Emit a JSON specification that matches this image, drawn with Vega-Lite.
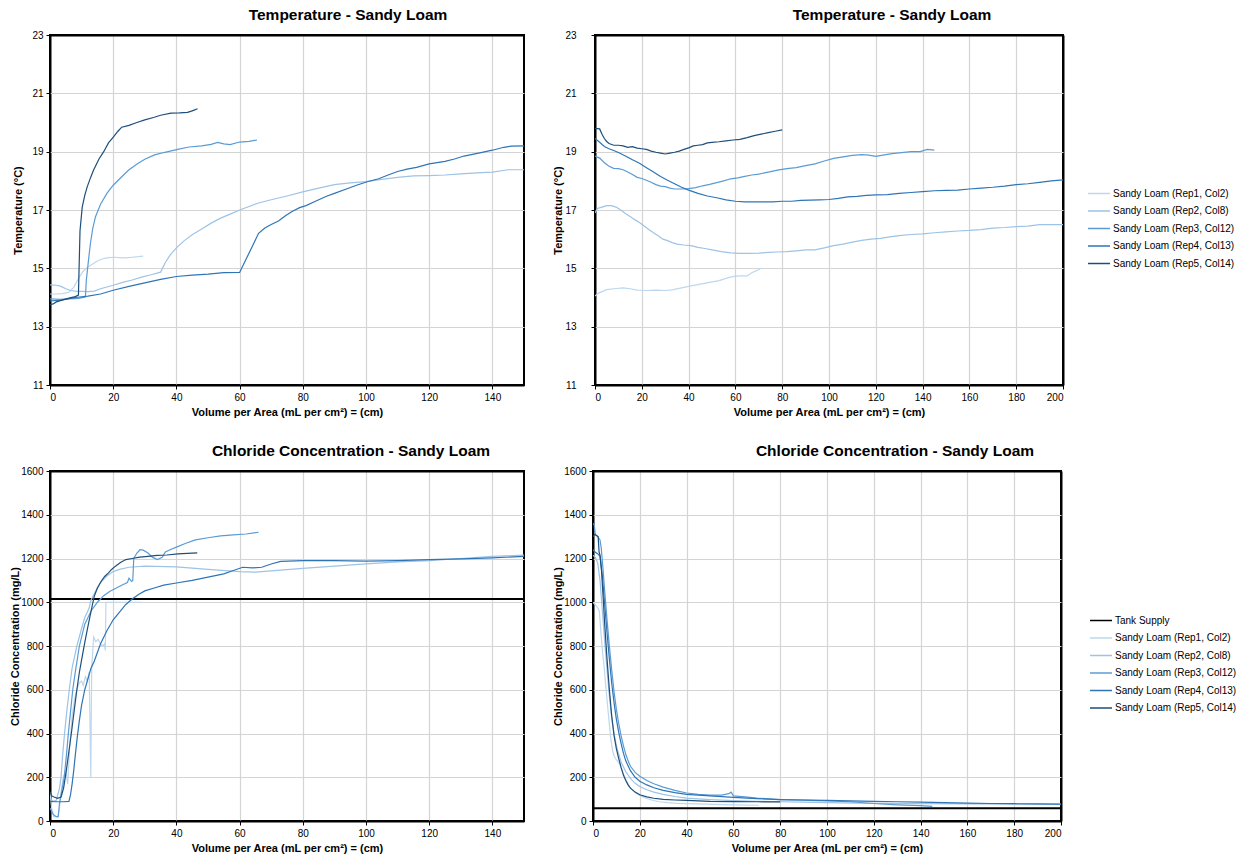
{
"$schema": "https://vega.github.io/schema/vega-lite/v6.json",
"padding": {"left": 8, "top": 6, "right": 0, "bottom": 0},
"config": {
  "font": "Liberation Sans",
  "view": {"stroke": "#000", "strokeWidth": 2},
  "axis": {"labelFont": "Liberation Sans", "labelFontSize": 10, "labelColor": "#000", "titleFont": "Liberation Sans", "titleFontSize": 11, "titleFontWeight": "bold", "titleColor": "#000", "gridColor": "#d4d4d4", "gridWidth": 1.2, "domain": false, "tickColor": "#000", "tickSize": 4, "labelPadding": 3, "titlePadding": 4, "minExtent": 0, "format": "d"},
  "axisY": {"minExtent": 0},
  "title": {"font": "Liberation Sans", "fontSize": 15.5, "fontWeight": "bold", "color": "#000", "offset": 7},
  "legend": {"labelFont": "Liberation Sans", "labelFontSize": 10, "labelColor": "#000", "symbolType": "M-1,0H3", "symbolSize": 121, "symbolStrokeWidth": 1.5, "labelOffset": 13, "rowPadding": 5.5, "labelLimit": 200}
},
"datasets": {
"tempA": [
{"s":"Sandy Loam (Rep1, Col2)","x":0,"y":14.12},{"s":"Sandy Loam (Rep1, Col2)","x":2,"y":14.12},{"s":"Sandy Loam (Rep1, Col2)","x":4,"y":14.13},{"s":"Sandy Loam (Rep1, Col2)","x":6,"y":14.18},{"s":"Sandy Loam (Rep1, Col2)","x":7.5,"y":14.35},{"s":"Sandy Loam (Rep1, Col2)","x":9,"y":14.65},{"s":"Sandy Loam (Rep1, Col2)","x":10.5,"y":14.9},{"s":"Sandy Loam (Rep1, Col2)","x":12,"y":15.05},{"s":"Sandy Loam (Rep1, Col2)","x":13.5,"y":15.15},{"s":"Sandy Loam (Rep1, Col2)","x":15,"y":15.25},{"s":"Sandy Loam (Rep1, Col2)","x":16.5,"y":15.32},{"s":"Sandy Loam (Rep1, Col2)","x":18,"y":15.36},{"s":"Sandy Loam (Rep1, Col2)","x":20,"y":15.38},{"s":"Sandy Loam (Rep1, Col2)","x":22,"y":15.37},{"s":"Sandy Loam (Rep1, Col2)","x":24,"y":15.36},{"s":"Sandy Loam (Rep1, Col2)","x":26,"y":15.38},{"s":"Sandy Loam (Rep1, Col2)","x":28,"y":15.4},{"s":"Sandy Loam (Rep1, Col2)","x":29.5,"y":15.42},
{"s":"Sandy Loam (Rep2, Col8)","x":0,"y":14.43},{"s":"Sandy Loam (Rep2, Col8)","x":2,"y":14.42},{"s":"Sandy Loam (Rep2, Col8)","x":3.5,"y":14.38},{"s":"Sandy Loam (Rep2, Col8)","x":5,"y":14.3},{"s":"Sandy Loam (Rep2, Col8)","x":6.5,"y":14.24},{"s":"Sandy Loam (Rep2, Col8)","x":8,"y":14.22},{"s":"Sandy Loam (Rep2, Col8)","x":10,"y":14.21},{"s":"Sandy Loam (Rep2, Col8)","x":12,"y":14.2},{"s":"Sandy Loam (Rep2, Col8)","x":14,"y":14.22},{"s":"Sandy Loam (Rep2, Col8)","x":16,"y":14.3},{"s":"Sandy Loam (Rep2, Col8)","x":18,"y":14.36},{"s":"Sandy Loam (Rep2, Col8)","x":20,"y":14.42},{"s":"Sandy Loam (Rep2, Col8)","x":23,"y":14.52},{"s":"Sandy Loam (Rep2, Col8)","x":26,"y":14.6},{"s":"Sandy Loam (Rep2, Col8)","x":29,"y":14.7},{"s":"Sandy Loam (Rep2, Col8)","x":32,"y":14.78},{"s":"Sandy Loam (Rep2, Col8)","x":35,"y":14.87},{"s":"Sandy Loam (Rep2, Col8)","x":36.5,"y":15.2},{"s":"Sandy Loam (Rep2, Col8)","x":38,"y":15.45},{"s":"Sandy Loam (Rep2, Col8)","x":40,"y":15.7},{"s":"Sandy Loam (Rep2, Col8)","x":42.5,"y":15.95},{"s":"Sandy Loam (Rep2, Col8)","x":45,"y":16.15},{"s":"Sandy Loam (Rep2, Col8)","x":48,"y":16.35},{"s":"Sandy Loam (Rep2, Col8)","x":51,"y":16.55},{"s":"Sandy Loam (Rep2, Col8)","x":54,"y":16.72},{"s":"Sandy Loam (Rep2, Col8)","x":57,"y":16.86},{"s":"Sandy Loam (Rep2, Col8)","x":60,"y":17.0},{"s":"Sandy Loam (Rep2, Col8)","x":63,"y":17.12},{"s":"Sandy Loam (Rep2, Col8)","x":66,"y":17.24},{"s":"Sandy Loam (Rep2, Col8)","x":70,"y":17.35},{"s":"Sandy Loam (Rep2, Col8)","x":75,"y":17.48},{"s":"Sandy Loam (Rep2, Col8)","x":80,"y":17.62},{"s":"Sandy Loam (Rep2, Col8)","x":85,"y":17.75},{"s":"Sandy Loam (Rep2, Col8)","x":90,"y":17.87},{"s":"Sandy Loam (Rep2, Col8)","x":95,"y":17.93},{"s":"Sandy Loam (Rep2, Col8)","x":100,"y":17.97},{"s":"Sandy Loam (Rep2, Col8)","x":105,"y":18.05},{"s":"Sandy Loam (Rep2, Col8)","x":110,"y":18.12},{"s":"Sandy Loam (Rep2, Col8)","x":115,"y":18.17},{"s":"Sandy Loam (Rep2, Col8)","x":120,"y":18.18},{"s":"Sandy Loam (Rep2, Col8)","x":125,"y":18.2},{"s":"Sandy Loam (Rep2, Col8)","x":130,"y":18.24},{"s":"Sandy Loam (Rep2, Col8)","x":135,"y":18.27},{"s":"Sandy Loam (Rep2, Col8)","x":140,"y":18.3},{"s":"Sandy Loam (Rep2, Col8)","x":145,"y":18.38},{"s":"Sandy Loam (Rep2, Col8)","x":150,"y":18.38},
{"s":"Sandy Loam (Rep3, Col12)","x":0,"y":13.95},{"s":"Sandy Loam (Rep3, Col12)","x":3,"y":13.94},{"s":"Sandy Loam (Rep3, Col12)","x":6,"y":13.95},{"s":"Sandy Loam (Rep3, Col12)","x":9,"y":13.97},{"s":"Sandy Loam (Rep3, Col12)","x":11.2,"y":14.02},{"s":"Sandy Loam (Rep3, Col12)","x":11.5,"y":14.6},{"s":"Sandy Loam (Rep3, Col12)","x":12.2,"y":15.3},{"s":"Sandy Loam (Rep3, Col12)","x":12.8,"y":15.86},{"s":"Sandy Loam (Rep3, Col12)","x":13.5,"y":16.35},{"s":"Sandy Loam (Rep3, Col12)","x":14.4,"y":16.77},{"s":"Sandy Loam (Rep3, Col12)","x":16,"y":17.2},{"s":"Sandy Loam (Rep3, Col12)","x":18,"y":17.57},{"s":"Sandy Loam (Rep3, Col12)","x":20,"y":17.85},{"s":"Sandy Loam (Rep3, Col12)","x":22.7,"y":18.14},{"s":"Sandy Loam (Rep3, Col12)","x":25,"y":18.38},{"s":"Sandy Loam (Rep3, Col12)","x":27.9,"y":18.6},{"s":"Sandy Loam (Rep3, Col12)","x":30,"y":18.74},{"s":"Sandy Loam (Rep3, Col12)","x":33.1,"y":18.89},{"s":"Sandy Loam (Rep3, Col12)","x":36,"y":18.97},{"s":"Sandy Loam (Rep3, Col12)","x":40.4,"y":19.08},{"s":"Sandy Loam (Rep3, Col12)","x":44,"y":19.16},{"s":"Sandy Loam (Rep3, Col12)","x":48,"y":19.2},{"s":"Sandy Loam (Rep3, Col12)","x":51,"y":19.25},{"s":"Sandy Loam (Rep3, Col12)","x":53,"y":19.32},{"s":"Sandy Loam (Rep3, Col12)","x":55,"y":19.27},{"s":"Sandy Loam (Rep3, Col12)","x":57,"y":19.24},{"s":"Sandy Loam (Rep3, Col12)","x":60,"y":19.33},{"s":"Sandy Loam (Rep3, Col12)","x":63,"y":19.35},{"s":"Sandy Loam (Rep3, Col12)","x":65.5,"y":19.4},
{"s":"Sandy Loam (Rep4, Col13)","x":0,"y":13.88},{"s":"Sandy Loam (Rep4, Col13)","x":4,"y":13.92},{"s":"Sandy Loam (Rep4, Col13)","x":8,"y":14.0},{"s":"Sandy Loam (Rep4, Col13)","x":12,"y":14.05},{"s":"Sandy Loam (Rep4, Col13)","x":16,"y":14.12},{"s":"Sandy Loam (Rep4, Col13)","x":20,"y":14.25},{"s":"Sandy Loam (Rep4, Col13)","x":25,"y":14.38},{"s":"Sandy Loam (Rep4, Col13)","x":30,"y":14.5},{"s":"Sandy Loam (Rep4, Col13)","x":35,"y":14.62},{"s":"Sandy Loam (Rep4, Col13)","x":40,"y":14.72},{"s":"Sandy Loam (Rep4, Col13)","x":45,"y":14.77},{"s":"Sandy Loam (Rep4, Col13)","x":50,"y":14.8},{"s":"Sandy Loam (Rep4, Col13)","x":55,"y":14.85},{"s":"Sandy Loam (Rep4, Col13)","x":60,"y":14.86},{"s":"Sandy Loam (Rep4, Col13)","x":62,"y":15.3},{"s":"Sandy Loam (Rep4, Col13)","x":64,"y":15.75},{"s":"Sandy Loam (Rep4, Col13)","x":66,"y":16.2},{"s":"Sandy Loam (Rep4, Col13)","x":68,"y":16.38},{"s":"Sandy Loam (Rep4, Col13)","x":70,"y":16.5},{"s":"Sandy Loam (Rep4, Col13)","x":72.3,"y":16.62},{"s":"Sandy Loam (Rep4, Col13)","x":74.5,"y":16.8},{"s":"Sandy Loam (Rep4, Col13)","x":76.6,"y":16.95},{"s":"Sandy Loam (Rep4, Col13)","x":79,"y":17.08},{"s":"Sandy Loam (Rep4, Col13)","x":81,"y":17.15},{"s":"Sandy Loam (Rep4, Col13)","x":84,"y":17.3},{"s":"Sandy Loam (Rep4, Col13)","x":87.5,"y":17.47},{"s":"Sandy Loam (Rep4, Col13)","x":90,"y":17.57},{"s":"Sandy Loam (Rep4, Col13)","x":94,"y":17.73},{"s":"Sandy Loam (Rep4, Col13)","x":97,"y":17.85},{"s":"Sandy Loam (Rep4, Col13)","x":100.4,"y":17.97},{"s":"Sandy Loam (Rep4, Col13)","x":104,"y":18.07},{"s":"Sandy Loam (Rep4, Col13)","x":107,"y":18.2},{"s":"Sandy Loam (Rep4, Col13)","x":110,"y":18.32},{"s":"Sandy Loam (Rep4, Col13)","x":113,"y":18.4},{"s":"Sandy Loam (Rep4, Col13)","x":116,"y":18.46},{"s":"Sandy Loam (Rep4, Col13)","x":120,"y":18.58},{"s":"Sandy Loam (Rep4, Col13)","x":125,"y":18.67},{"s":"Sandy Loam (Rep4, Col13)","x":128,"y":18.75},{"s":"Sandy Loam (Rep4, Col13)","x":131,"y":18.85},{"s":"Sandy Loam (Rep4, Col13)","x":136,"y":18.96},{"s":"Sandy Loam (Rep4, Col13)","x":140,"y":19.05},{"s":"Sandy Loam (Rep4, Col13)","x":143.6,"y":19.15},{"s":"Sandy Loam (Rep4, Col13)","x":146,"y":19.19},{"s":"Sandy Loam (Rep4, Col13)","x":150,"y":19.2},
{"s":"Sandy Loam (Rep5, Col14)","x":0,"y":13.75},{"s":"Sandy Loam (Rep5, Col14)","x":1,"y":13.78},{"s":"Sandy Loam (Rep5, Col14)","x":2,"y":13.85},{"s":"Sandy Loam (Rep5, Col14)","x":4,"y":13.92},{"s":"Sandy Loam (Rep5, Col14)","x":6,"y":13.98},{"s":"Sandy Loam (Rep5, Col14)","x":8,"y":14.03},{"s":"Sandy Loam (Rep5, Col14)","x":9,"y":14.08},{"s":"Sandy Loam (Rep5, Col14)","x":9.2,"y":15.0},{"s":"Sandy Loam (Rep5, Col14)","x":9.5,"y":16.3},{"s":"Sandy Loam (Rep5, Col14)","x":10.2,"y":17.1},{"s":"Sandy Loam (Rep5, Col14)","x":11,"y":17.5},{"s":"Sandy Loam (Rep5, Col14)","x":11.8,"y":17.8},{"s":"Sandy Loam (Rep5, Col14)","x":12.8,"y":18.1},{"s":"Sandy Loam (Rep5, Col14)","x":13.8,"y":18.37},{"s":"Sandy Loam (Rep5, Col14)","x":15.5,"y":18.75},{"s":"Sandy Loam (Rep5, Col14)","x":17,"y":19.0},{"s":"Sandy Loam (Rep5, Col14)","x":18.5,"y":19.3},{"s":"Sandy Loam (Rep5, Col14)","x":20.1,"y":19.51},{"s":"Sandy Loam (Rep5, Col14)","x":21.5,"y":19.7},{"s":"Sandy Loam (Rep5, Col14)","x":22.7,"y":19.84},{"s":"Sandy Loam (Rep5, Col14)","x":25,"y":19.9},{"s":"Sandy Loam (Rep5, Col14)","x":27.5,"y":20.0},{"s":"Sandy Loam (Rep5, Col14)","x":30,"y":20.09},{"s":"Sandy Loam (Rep5, Col14)","x":33,"y":20.18},{"s":"Sandy Loam (Rep5, Col14)","x":35,"y":20.25},{"s":"Sandy Loam (Rep5, Col14)","x":38.3,"y":20.32},{"s":"Sandy Loam (Rep5, Col14)","x":41,"y":20.33},{"s":"Sandy Loam (Rep5, Col14)","x":43.5,"y":20.35},{"s":"Sandy Loam (Rep5, Col14)","x":45,"y":20.4},{"s":"Sandy Loam (Rep5, Col14)","x":46.7,"y":20.47}
],
"tempB": [
{"s":"Sandy Loam (Rep1, Col2)","x":0,"y":14.05},{"s":"Sandy Loam (Rep1, Col2)","x":1.5,"y":14.15},{"s":"Sandy Loam (Rep1, Col2)","x":3,"y":14.2},{"s":"Sandy Loam (Rep1, Col2)","x":5,"y":14.27},{"s":"Sandy Loam (Rep1, Col2)","x":8,"y":14.3},{"s":"Sandy Loam (Rep1, Col2)","x":12,"y":14.33},{"s":"Sandy Loam (Rep1, Col2)","x":15,"y":14.3},{"s":"Sandy Loam (Rep1, Col2)","x":18,"y":14.25},{"s":"Sandy Loam (Rep1, Col2)","x":22,"y":14.24},{"s":"Sandy Loam (Rep1, Col2)","x":26,"y":14.25},{"s":"Sandy Loam (Rep1, Col2)","x":30,"y":14.24},{"s":"Sandy Loam (Rep1, Col2)","x":33,"y":14.26},{"s":"Sandy Loam (Rep1, Col2)","x":37,"y":14.33},{"s":"Sandy Loam (Rep1, Col2)","x":41,"y":14.4},{"s":"Sandy Loam (Rep1, Col2)","x":45,"y":14.46},{"s":"Sandy Loam (Rep1, Col2)","x":49,"y":14.52},{"s":"Sandy Loam (Rep1, Col2)","x":53,"y":14.58},{"s":"Sandy Loam (Rep1, Col2)","x":57,"y":14.68},{"s":"Sandy Loam (Rep1, Col2)","x":60,"y":14.73},{"s":"Sandy Loam (Rep1, Col2)","x":63,"y":14.74},{"s":"Sandy Loam (Rep1, Col2)","x":65,"y":14.74},{"s":"Sandy Loam (Rep1, Col2)","x":67,"y":14.85},{"s":"Sandy Loam (Rep1, Col2)","x":69,"y":14.92},{"s":"Sandy Loam (Rep1, Col2)","x":71,"y":15.0},
{"s":"Sandy Loam (Rep2, Col8)","x":0,"y":16.9},{"s":"Sandy Loam (Rep2, Col8)","x":1,"y":17.05},{"s":"Sandy Loam (Rep2, Col8)","x":3,"y":17.1},{"s":"Sandy Loam (Rep2, Col8)","x":5,"y":17.15},{"s":"Sandy Loam (Rep2, Col8)","x":7,"y":17.15},{"s":"Sandy Loam (Rep2, Col8)","x":9,"y":17.1},{"s":"Sandy Loam (Rep2, Col8)","x":11,"y":17.0},{"s":"Sandy Loam (Rep2, Col8)","x":13,"y":16.88},{"s":"Sandy Loam (Rep2, Col8)","x":15,"y":16.78},{"s":"Sandy Loam (Rep2, Col8)","x":17,"y":16.67},{"s":"Sandy Loam (Rep2, Col8)","x":19,"y":16.57},{"s":"Sandy Loam (Rep2, Col8)","x":21,"y":16.45},{"s":"Sandy Loam (Rep2, Col8)","x":23,"y":16.33},{"s":"Sandy Loam (Rep2, Col8)","x":25,"y":16.22},{"s":"Sandy Loam (Rep2, Col8)","x":27,"y":16.12},{"s":"Sandy Loam (Rep2, Col8)","x":29,"y":16.0},{"s":"Sandy Loam (Rep2, Col8)","x":31,"y":15.95},{"s":"Sandy Loam (Rep2, Col8)","x":33,"y":15.88},{"s":"Sandy Loam (Rep2, Col8)","x":35,"y":15.83},{"s":"Sandy Loam (Rep2, Col8)","x":38,"y":15.8},{"s":"Sandy Loam (Rep2, Col8)","x":41,"y":15.78},{"s":"Sandy Loam (Rep2, Col8)","x":44,"y":15.72},{"s":"Sandy Loam (Rep2, Col8)","x":47,"y":15.68},{"s":"Sandy Loam (Rep2, Col8)","x":50,"y":15.63},{"s":"Sandy Loam (Rep2, Col8)","x":54,"y":15.57},{"s":"Sandy Loam (Rep2, Col8)","x":58,"y":15.53},{"s":"Sandy Loam (Rep2, Col8)","x":62,"y":15.51},{"s":"Sandy Loam (Rep2, Col8)","x":66,"y":15.51},{"s":"Sandy Loam (Rep2, Col8)","x":70,"y":15.52},{"s":"Sandy Loam (Rep2, Col8)","x":74,"y":15.55},{"s":"Sandy Loam (Rep2, Col8)","x":78,"y":15.56},{"s":"Sandy Loam (Rep2, Col8)","x":82,"y":15.57},{"s":"Sandy Loam (Rep2, Col8)","x":86,"y":15.6},{"s":"Sandy Loam (Rep2, Col8)","x":90,"y":15.63},{"s":"Sandy Loam (Rep2, Col8)","x":94,"y":15.63},{"s":"Sandy Loam (Rep2, Col8)","x":98,"y":15.7},{"s":"Sandy Loam (Rep2, Col8)","x":102,"y":15.78},{"s":"Sandy Loam (Rep2, Col8)","x":106,"y":15.83},{"s":"Sandy Loam (Rep2, Col8)","x":110,"y":15.9},{"s":"Sandy Loam (Rep2, Col8)","x":114,"y":15.96},{"s":"Sandy Loam (Rep2, Col8)","x":118,"y":16.0},{"s":"Sandy Loam (Rep2, Col8)","x":122,"y":16.03},{"s":"Sandy Loam (Rep2, Col8)","x":126,"y":16.08},{"s":"Sandy Loam (Rep2, Col8)","x":130,"y":16.12},{"s":"Sandy Loam (Rep2, Col8)","x":135,"y":16.16},{"s":"Sandy Loam (Rep2, Col8)","x":140,"y":16.18},{"s":"Sandy Loam (Rep2, Col8)","x":145,"y":16.22},{"s":"Sandy Loam (Rep2, Col8)","x":150,"y":16.25},{"s":"Sandy Loam (Rep2, Col8)","x":155,"y":16.28},{"s":"Sandy Loam (Rep2, Col8)","x":160,"y":16.3},{"s":"Sandy Loam (Rep2, Col8)","x":165,"y":16.33},{"s":"Sandy Loam (Rep2, Col8)","x":170,"y":16.38},{"s":"Sandy Loam (Rep2, Col8)","x":175,"y":16.4},{"s":"Sandy Loam (Rep2, Col8)","x":180,"y":16.43},{"s":"Sandy Loam (Rep2, Col8)","x":185,"y":16.45},{"s":"Sandy Loam (Rep2, Col8)","x":190,"y":16.5},{"s":"Sandy Loam (Rep2, Col8)","x":195,"y":16.5},{"s":"Sandy Loam (Rep2, Col8)","x":200,"y":16.5},
{"s":"Sandy Loam (Rep3, Col12)","x":0,"y":18.85},{"s":"Sandy Loam (Rep3, Col12)","x":2,"y":18.78},{"s":"Sandy Loam (Rep3, Col12)","x":4,"y":18.62},{"s":"Sandy Loam (Rep3, Col12)","x":6,"y":18.5},{"s":"Sandy Loam (Rep3, Col12)","x":8,"y":18.43},{"s":"Sandy Loam (Rep3, Col12)","x":10,"y":18.42},{"s":"Sandy Loam (Rep3, Col12)","x":12,"y":18.38},{"s":"Sandy Loam (Rep3, Col12)","x":14,"y":18.3},{"s":"Sandy Loam (Rep3, Col12)","x":16,"y":18.22},{"s":"Sandy Loam (Rep3, Col12)","x":18,"y":18.12},{"s":"Sandy Loam (Rep3, Col12)","x":20,"y":18.08},{"s":"Sandy Loam (Rep3, Col12)","x":22,"y":18.02},{"s":"Sandy Loam (Rep3, Col12)","x":24,"y":17.95},{"s":"Sandy Loam (Rep3, Col12)","x":26,"y":17.87},{"s":"Sandy Loam (Rep3, Col12)","x":28,"y":17.82},{"s":"Sandy Loam (Rep3, Col12)","x":30,"y":17.8},{"s":"Sandy Loam (Rep3, Col12)","x":32,"y":17.75},{"s":"Sandy Loam (Rep3, Col12)","x":34,"y":17.72},{"s":"Sandy Loam (Rep3, Col12)","x":37,"y":17.72},{"s":"Sandy Loam (Rep3, Col12)","x":40,"y":17.73},{"s":"Sandy Loam (Rep3, Col12)","x":43,"y":17.77},{"s":"Sandy Loam (Rep3, Col12)","x":46,"y":17.83},{"s":"Sandy Loam (Rep3, Col12)","x":49,"y":17.88},{"s":"Sandy Loam (Rep3, Col12)","x":52,"y":17.94},{"s":"Sandy Loam (Rep3, Col12)","x":55,"y":18.0},{"s":"Sandy Loam (Rep3, Col12)","x":58,"y":18.07},{"s":"Sandy Loam (Rep3, Col12)","x":61,"y":18.1},{"s":"Sandy Loam (Rep3, Col12)","x":64,"y":18.15},{"s":"Sandy Loam (Rep3, Col12)","x":67,"y":18.2},{"s":"Sandy Loam (Rep3, Col12)","x":70,"y":18.23},{"s":"Sandy Loam (Rep3, Col12)","x":74,"y":18.3},{"s":"Sandy Loam (Rep3, Col12)","x":78,"y":18.37},{"s":"Sandy Loam (Rep3, Col12)","x":82,"y":18.42},{"s":"Sandy Loam (Rep3, Col12)","x":86,"y":18.45},{"s":"Sandy Loam (Rep3, Col12)","x":90,"y":18.52},{"s":"Sandy Loam (Rep3, Col12)","x":94,"y":18.58},{"s":"Sandy Loam (Rep3, Col12)","x":98,"y":18.68},{"s":"Sandy Loam (Rep3, Col12)","x":102,"y":18.77},{"s":"Sandy Loam (Rep3, Col12)","x":106,"y":18.82},{"s":"Sandy Loam (Rep3, Col12)","x":110,"y":18.87},{"s":"Sandy Loam (Rep3, Col12)","x":114,"y":18.9},{"s":"Sandy Loam (Rep3, Col12)","x":117,"y":18.88},{"s":"Sandy Loam (Rep3, Col12)","x":120,"y":18.84},{"s":"Sandy Loam (Rep3, Col12)","x":123,"y":18.88},{"s":"Sandy Loam (Rep3, Col12)","x":127,"y":18.93},{"s":"Sandy Loam (Rep3, Col12)","x":131,"y":18.97},{"s":"Sandy Loam (Rep3, Col12)","x":135,"y":19.0},{"s":"Sandy Loam (Rep3, Col12)","x":139,"y":19.0},{"s":"Sandy Loam (Rep3, Col12)","x":142,"y":19.08},{"s":"Sandy Loam (Rep3, Col12)","x":145,"y":19.05},
{"s":"Sandy Loam (Rep4, Col13)","x":0,"y":19.45},{"s":"Sandy Loam (Rep4, Col13)","x":2,"y":19.32},{"s":"Sandy Loam (Rep4, Col13)","x":4,"y":19.18},{"s":"Sandy Loam (Rep4, Col13)","x":6,"y":19.1},{"s":"Sandy Loam (Rep4, Col13)","x":8,"y":19.04},{"s":"Sandy Loam (Rep4, Col13)","x":10,"y":18.97},{"s":"Sandy Loam (Rep4, Col13)","x":13,"y":18.85},{"s":"Sandy Loam (Rep4, Col13)","x":16,"y":18.72},{"s":"Sandy Loam (Rep4, Col13)","x":19,"y":18.6},{"s":"Sandy Loam (Rep4, Col13)","x":22,"y":18.45},{"s":"Sandy Loam (Rep4, Col13)","x":25,"y":18.3},{"s":"Sandy Loam (Rep4, Col13)","x":28,"y":18.15},{"s":"Sandy Loam (Rep4, Col13)","x":31,"y":18.02},{"s":"Sandy Loam (Rep4, Col13)","x":34,"y":17.9},{"s":"Sandy Loam (Rep4, Col13)","x":37,"y":17.78},{"s":"Sandy Loam (Rep4, Col13)","x":40,"y":17.68},{"s":"Sandy Loam (Rep4, Col13)","x":44,"y":17.57},{"s":"Sandy Loam (Rep4, Col13)","x":48,"y":17.48},{"s":"Sandy Loam (Rep4, Col13)","x":52,"y":17.42},{"s":"Sandy Loam (Rep4, Col13)","x":56,"y":17.35},{"s":"Sandy Loam (Rep4, Col13)","x":60,"y":17.3},{"s":"Sandy Loam (Rep4, Col13)","x":64,"y":17.28},{"s":"Sandy Loam (Rep4, Col13)","x":68,"y":17.28},{"s":"Sandy Loam (Rep4, Col13)","x":72,"y":17.28},{"s":"Sandy Loam (Rep4, Col13)","x":76,"y":17.28},{"s":"Sandy Loam (Rep4, Col13)","x":80,"y":17.3},{"s":"Sandy Loam (Rep4, Col13)","x":84,"y":17.3},{"s":"Sandy Loam (Rep4, Col13)","x":88,"y":17.33},{"s":"Sandy Loam (Rep4, Col13)","x":92,"y":17.34},{"s":"Sandy Loam (Rep4, Col13)","x":96,"y":17.35},{"s":"Sandy Loam (Rep4, Col13)","x":100,"y":17.36},{"s":"Sandy Loam (Rep4, Col13)","x":104,"y":17.4},{"s":"Sandy Loam (Rep4, Col13)","x":108,"y":17.45},{"s":"Sandy Loam (Rep4, Col13)","x":112,"y":17.47},{"s":"Sandy Loam (Rep4, Col13)","x":116,"y":17.5},{"s":"Sandy Loam (Rep4, Col13)","x":120,"y":17.52},{"s":"Sandy Loam (Rep4, Col13)","x":125,"y":17.53},{"s":"Sandy Loam (Rep4, Col13)","x":130,"y":17.57},{"s":"Sandy Loam (Rep4, Col13)","x":135,"y":17.6},{"s":"Sandy Loam (Rep4, Col13)","x":140,"y":17.63},{"s":"Sandy Loam (Rep4, Col13)","x":145,"y":17.66},{"s":"Sandy Loam (Rep4, Col13)","x":150,"y":17.67},{"s":"Sandy Loam (Rep4, Col13)","x":155,"y":17.68},{"s":"Sandy Loam (Rep4, Col13)","x":160,"y":17.72},{"s":"Sandy Loam (Rep4, Col13)","x":165,"y":17.75},{"s":"Sandy Loam (Rep4, Col13)","x":170,"y":17.78},{"s":"Sandy Loam (Rep4, Col13)","x":175,"y":17.82},{"s":"Sandy Loam (Rep4, Col13)","x":180,"y":17.87},{"s":"Sandy Loam (Rep4, Col13)","x":185,"y":17.9},{"s":"Sandy Loam (Rep4, Col13)","x":190,"y":17.95},{"s":"Sandy Loam (Rep4, Col13)","x":195,"y":18.0},{"s":"Sandy Loam (Rep4, Col13)","x":200,"y":18.03},
{"s":"Sandy Loam (Rep5, Col14)","x":0,"y":19.8},{"s":"Sandy Loam (Rep5, Col14)","x":2,"y":19.78},{"s":"Sandy Loam (Rep5, Col14)","x":3,"y":19.6},{"s":"Sandy Loam (Rep5, Col14)","x":4,"y":19.45},{"s":"Sandy Loam (Rep5, Col14)","x":5,"y":19.35},{"s":"Sandy Loam (Rep5, Col14)","x":6,"y":19.28},{"s":"Sandy Loam (Rep5, Col14)","x":8,"y":19.22},{"s":"Sandy Loam (Rep5, Col14)","x":10,"y":19.22},{"s":"Sandy Loam (Rep5, Col14)","x":12,"y":19.2},{"s":"Sandy Loam (Rep5, Col14)","x":14,"y":19.15},{"s":"Sandy Loam (Rep5, Col14)","x":16,"y":19.17},{"s":"Sandy Loam (Rep5, Col14)","x":18,"y":19.12},{"s":"Sandy Loam (Rep5, Col14)","x":20,"y":19.1},{"s":"Sandy Loam (Rep5, Col14)","x":22,"y":19.08},{"s":"Sandy Loam (Rep5, Col14)","x":24,"y":19.02},{"s":"Sandy Loam (Rep5, Col14)","x":26,"y":18.98},{"s":"Sandy Loam (Rep5, Col14)","x":28,"y":18.95},{"s":"Sandy Loam (Rep5, Col14)","x":30,"y":18.92},{"s":"Sandy Loam (Rep5, Col14)","x":32,"y":18.95},{"s":"Sandy Loam (Rep5, Col14)","x":34,"y":18.98},{"s":"Sandy Loam (Rep5, Col14)","x":36,"y":19.02},{"s":"Sandy Loam (Rep5, Col14)","x":38,"y":19.08},{"s":"Sandy Loam (Rep5, Col14)","x":40,"y":19.13},{"s":"Sandy Loam (Rep5, Col14)","x":42,"y":19.2},{"s":"Sandy Loam (Rep5, Col14)","x":44,"y":19.22},{"s":"Sandy Loam (Rep5, Col14)","x":46,"y":19.24},{"s":"Sandy Loam (Rep5, Col14)","x":48,"y":19.3},{"s":"Sandy Loam (Rep5, Col14)","x":50,"y":19.32},{"s":"Sandy Loam (Rep5, Col14)","x":53,"y":19.34},{"s":"Sandy Loam (Rep5, Col14)","x":56,"y":19.37},{"s":"Sandy Loam (Rep5, Col14)","x":59,"y":19.4},{"s":"Sandy Loam (Rep5, Col14)","x":62,"y":19.42},{"s":"Sandy Loam (Rep5, Col14)","x":65,"y":19.48},{"s":"Sandy Loam (Rep5, Col14)","x":68,"y":19.55},{"s":"Sandy Loam (Rep5, Col14)","x":71,"y":19.6},{"s":"Sandy Loam (Rep5, Col14)","x":74,"y":19.65},{"s":"Sandy Loam (Rep5, Col14)","x":77,"y":19.7},{"s":"Sandy Loam (Rep5, Col14)","x":80,"y":19.75}
],
"chlA": [
{"s":"Tank Supply","x":0,"y":1015},{"s":"Tank Supply","x":150,"y":1015},
{"s":"Sandy Loam (Rep1, Col2)","x":0,"y":130},{"s":"Sandy Loam (Rep1, Col2)","x":0.5,"y":60},{"s":"Sandy Loam (Rep1, Col2)","x":1.2,"y":20},{"s":"Sandy Loam (Rep1, Col2)","x":2.5,"y":20},{"s":"Sandy Loam (Rep1, Col2)","x":3,"y":60},{"s":"Sandy Loam (Rep1, Col2)","x":3.5,"y":130},{"s":"Sandy Loam (Rep1, Col2)","x":4.2,"y":200},{"s":"Sandy Loam (Rep1, Col2)","x":5,"y":230},{"s":"Sandy Loam (Rep1, Col2)","x":5.6,"y":170},{"s":"Sandy Loam (Rep1, Col2)","x":6.2,"y":330},{"s":"Sandy Loam (Rep1, Col2)","x":7,"y":480},{"s":"Sandy Loam (Rep1, Col2)","x":7.8,"y":560},{"s":"Sandy Loam (Rep1, Col2)","x":8.5,"y":600},{"s":"Sandy Loam (Rep1, Col2)","x":9.2,"y":630},{"s":"Sandy Loam (Rep1, Col2)","x":10,"y":640},{"s":"Sandy Loam (Rep1, Col2)","x":10.5,"y":620},{"s":"Sandy Loam (Rep1, Col2)","x":11.2,"y":660},{"s":"Sandy Loam (Rep1, Col2)","x":11.8,"y":640},{"s":"Sandy Loam (Rep1, Col2)","x":12.4,"y":680},{"s":"Sandy Loam (Rep1, Col2)","x":12.7,"y":400},{"s":"Sandy Loam (Rep1, Col2)","x":12.9,"y":200},{"s":"Sandy Loam (Rep1, Col2)","x":13.2,"y":700},{"s":"Sandy Loam (Rep1, Col2)","x":13.8,"y":840},{"s":"Sandy Loam (Rep1, Col2)","x":14.5,"y":820},{"s":"Sandy Loam (Rep1, Col2)","x":15.2,"y":830},{"s":"Sandy Loam (Rep1, Col2)","x":16,"y":810},{"s":"Sandy Loam (Rep1, Col2)","x":16.6,"y":800},{"s":"Sandy Loam (Rep1, Col2)","x":17.2,"y":810},{"s":"Sandy Loam (Rep1, Col2)","x":17.5,"y":780},{"s":"Sandy Loam (Rep1, Col2)","x":17.7,"y":1000},{"s":"Sandy Loam (Rep1, Col2)","x":22,"y":1000},{"s":"Sandy Loam (Rep1, Col2)","x":29,"y":1000},
{"s":"Sandy Loam (Rep2, Col8)","x":0,"y":100},{"s":"Sandy Loam (Rep2, Col8)","x":1,"y":90},{"s":"Sandy Loam (Rep2, Col8)","x":2,"y":95},{"s":"Sandy Loam (Rep2, Col8)","x":3,"y":150},{"s":"Sandy Loam (Rep2, Col8)","x":3.5,"y":200},{"s":"Sandy Loam (Rep2, Col8)","x":4,"y":300},{"s":"Sandy Loam (Rep2, Col8)","x":4.6,"y":400},{"s":"Sandy Loam (Rep2, Col8)","x":5.3,"y":500},{"s":"Sandy Loam (Rep2, Col8)","x":6.1,"y":600},{"s":"Sandy Loam (Rep2, Col8)","x":7,"y":700},{"s":"Sandy Loam (Rep2, Col8)","x":8.5,"y":800},{"s":"Sandy Loam (Rep2, Col8)","x":10,"y":880},{"s":"Sandy Loam (Rep2, Col8)","x":11,"y":930},{"s":"Sandy Loam (Rep2, Col8)","x":12.3,"y":970},{"s":"Sandy Loam (Rep2, Col8)","x":13,"y":1010},{"s":"Sandy Loam (Rep2, Col8)","x":14.4,"y":1050},{"s":"Sandy Loam (Rep2, Col8)","x":16,"y":1090},{"s":"Sandy Loam (Rep2, Col8)","x":18,"y":1120},{"s":"Sandy Loam (Rep2, Col8)","x":20,"y":1140},{"s":"Sandy Loam (Rep2, Col8)","x":22,"y":1150},{"s":"Sandy Loam (Rep2, Col8)","x":25,"y":1160},{"s":"Sandy Loam (Rep2, Col8)","x":30,"y":1165},{"s":"Sandy Loam (Rep2, Col8)","x":40,"y":1162},{"s":"Sandy Loam (Rep2, Col8)","x":50,"y":1150},{"s":"Sandy Loam (Rep2, Col8)","x":60,"y":1140},{"s":"Sandy Loam (Rep2, Col8)","x":65,"y":1138},{"s":"Sandy Loam (Rep2, Col8)","x":70,"y":1143},{"s":"Sandy Loam (Rep2, Col8)","x":80,"y":1155},{"s":"Sandy Loam (Rep2, Col8)","x":90,"y":1165},{"s":"Sandy Loam (Rep2, Col8)","x":100,"y":1175},{"s":"Sandy Loam (Rep2, Col8)","x":110,"y":1185},{"s":"Sandy Loam (Rep2, Col8)","x":120,"y":1190},{"s":"Sandy Loam (Rep2, Col8)","x":130,"y":1200},{"s":"Sandy Loam (Rep2, Col8)","x":140,"y":1210},{"s":"Sandy Loam (Rep2, Col8)","x":150,"y":1215},
{"s":"Sandy Loam (Rep3, Col12)","x":0,"y":60},{"s":"Sandy Loam (Rep3, Col12)","x":1,"y":30},{"s":"Sandy Loam (Rep3, Col12)","x":2,"y":20},{"s":"Sandy Loam (Rep3, Col12)","x":2.6,"y":20},{"s":"Sandy Loam (Rep3, Col12)","x":3,"y":80},{"s":"Sandy Loam (Rep3, Col12)","x":3.5,"y":120},{"s":"Sandy Loam (Rep3, Col12)","x":4.5,"y":200},{"s":"Sandy Loam (Rep3, Col12)","x":5.2,"y":300},{"s":"Sandy Loam (Rep3, Col12)","x":5.8,"y":400},{"s":"Sandy Loam (Rep3, Col12)","x":6.5,"y":500},{"s":"Sandy Loam (Rep3, Col12)","x":7.2,"y":600},{"s":"Sandy Loam (Rep3, Col12)","x":8.2,"y":700},{"s":"Sandy Loam (Rep3, Col12)","x":9.3,"y":800},{"s":"Sandy Loam (Rep3, Col12)","x":11,"y":900},{"s":"Sandy Loam (Rep3, Col12)","x":13,"y":960},{"s":"Sandy Loam (Rep3, Col12)","x":15,"y":1000},{"s":"Sandy Loam (Rep3, Col12)","x":17,"y":1030},{"s":"Sandy Loam (Rep3, Col12)","x":19,"y":1050},{"s":"Sandy Loam (Rep3, Col12)","x":21,"y":1065},{"s":"Sandy Loam (Rep3, Col12)","x":23,"y":1080},{"s":"Sandy Loam (Rep3, Col12)","x":24.5,"y":1090},{"s":"Sandy Loam (Rep3, Col12)","x":25,"y":1110},{"s":"Sandy Loam (Rep3, Col12)","x":25.8,"y":1095},{"s":"Sandy Loam (Rep3, Col12)","x":26.2,"y":1100},{"s":"Sandy Loam (Rep3, Col12)","x":26.5,"y":1200},{"s":"Sandy Loam (Rep3, Col12)","x":27.5,"y":1225},{"s":"Sandy Loam (Rep3, Col12)","x":28.5,"y":1240},{"s":"Sandy Loam (Rep3, Col12)","x":29.5,"y":1238},{"s":"Sandy Loam (Rep3, Col12)","x":31,"y":1225},{"s":"Sandy Loam (Rep3, Col12)","x":32.5,"y":1205},{"s":"Sandy Loam (Rep3, Col12)","x":34,"y":1195},{"s":"Sandy Loam (Rep3, Col12)","x":35.5,"y":1205},{"s":"Sandy Loam (Rep3, Col12)","x":36.5,"y":1230},{"s":"Sandy Loam (Rep3, Col12)","x":38,"y":1240},{"s":"Sandy Loam (Rep3, Col12)","x":40,"y":1252},{"s":"Sandy Loam (Rep3, Col12)","x":43,"y":1270},{"s":"Sandy Loam (Rep3, Col12)","x":46,"y":1285},{"s":"Sandy Loam (Rep3, Col12)","x":50,"y":1295},{"s":"Sandy Loam (Rep3, Col12)","x":54,"y":1303},{"s":"Sandy Loam (Rep3, Col12)","x":58,"y":1308},{"s":"Sandy Loam (Rep3, Col12)","x":62,"y":1312},{"s":"Sandy Loam (Rep3, Col12)","x":66,"y":1320},
{"s":"Sandy Loam (Rep4, Col13)","x":0,"y":90},{"s":"Sandy Loam (Rep4, Col13)","x":2,"y":88},{"s":"Sandy Loam (Rep4, Col13)","x":4,"y":88},{"s":"Sandy Loam (Rep4, Col13)","x":6,"y":90},{"s":"Sandy Loam (Rep4, Col13)","x":6.5,"y":120},{"s":"Sandy Loam (Rep4, Col13)","x":7,"y":170},{"s":"Sandy Loam (Rep4, Col13)","x":7.5,"y":230},{"s":"Sandy Loam (Rep4, Col13)","x":8,"y":300},{"s":"Sandy Loam (Rep4, Col13)","x":8.6,"y":380},{"s":"Sandy Loam (Rep4, Col13)","x":9.3,"y":460},{"s":"Sandy Loam (Rep4, Col13)","x":10,"y":530},{"s":"Sandy Loam (Rep4, Col13)","x":11,"y":600},{"s":"Sandy Loam (Rep4, Col13)","x":12,"y":650},{"s":"Sandy Loam (Rep4, Col13)","x":13,"y":700},{"s":"Sandy Loam (Rep4, Col13)","x":14,"y":730},{"s":"Sandy Loam (Rep4, Col13)","x":15,"y":770},{"s":"Sandy Loam (Rep4, Col13)","x":16,"y":810},{"s":"Sandy Loam (Rep4, Col13)","x":17,"y":840},{"s":"Sandy Loam (Rep4, Col13)","x":18,"y":870},{"s":"Sandy Loam (Rep4, Col13)","x":19,"y":895},{"s":"Sandy Loam (Rep4, Col13)","x":20,"y":920},{"s":"Sandy Loam (Rep4, Col13)","x":22,"y":955},{"s":"Sandy Loam (Rep4, Col13)","x":24,"y":990},{"s":"Sandy Loam (Rep4, Col13)","x":26,"y":1015},{"s":"Sandy Loam (Rep4, Col13)","x":28,"y":1035},{"s":"Sandy Loam (Rep4, Col13)","x":30,"y":1052},{"s":"Sandy Loam (Rep4, Col13)","x":33,"y":1065},{"s":"Sandy Loam (Rep4, Col13)","x":36,"y":1078},{"s":"Sandy Loam (Rep4, Col13)","x":40,"y":1088},{"s":"Sandy Loam (Rep4, Col13)","x":45,"y":1100},{"s":"Sandy Loam (Rep4, Col13)","x":50,"y":1115},{"s":"Sandy Loam (Rep4, Col13)","x":55,"y":1130},{"s":"Sandy Loam (Rep4, Col13)","x":58,"y":1145},{"s":"Sandy Loam (Rep4, Col13)","x":61,"y":1160},{"s":"Sandy Loam (Rep4, Col13)","x":64,"y":1157},{"s":"Sandy Loam (Rep4, Col13)","x":67,"y":1160},{"s":"Sandy Loam (Rep4, Col13)","x":70,"y":1175},{"s":"Sandy Loam (Rep4, Col13)","x":73,"y":1187},{"s":"Sandy Loam (Rep4, Col13)","x":80,"y":1190},{"s":"Sandy Loam (Rep4, Col13)","x":90,"y":1190},{"s":"Sandy Loam (Rep4, Col13)","x":100,"y":1188},{"s":"Sandy Loam (Rep4, Col13)","x":110,"y":1190},{"s":"Sandy Loam (Rep4, Col13)","x":120,"y":1195},{"s":"Sandy Loam (Rep4, Col13)","x":130,"y":1198},{"s":"Sandy Loam (Rep4, Col13)","x":140,"y":1203},{"s":"Sandy Loam (Rep4, Col13)","x":150,"y":1210},
{"s":"Sandy Loam (Rep5, Col14)","x":0,"y":135},{"s":"Sandy Loam (Rep5, Col14)","x":0.5,"y":115},{"s":"Sandy Loam (Rep5, Col14)","x":1.3,"y":110},{"s":"Sandy Loam (Rep5, Col14)","x":2.4,"y":104},{"s":"Sandy Loam (Rep5, Col14)","x":3.5,"y":110},{"s":"Sandy Loam (Rep5, Col14)","x":4.3,"y":150},{"s":"Sandy Loam (Rep5, Col14)","x":5.2,"y":234},{"s":"Sandy Loam (Rep5, Col14)","x":6,"y":320},{"s":"Sandy Loam (Rep5, Col14)","x":6.9,"y":417},{"s":"Sandy Loam (Rep5, Col14)","x":7.7,"y":510},{"s":"Sandy Loam (Rep5, Col14)","x":8.5,"y":600},{"s":"Sandy Loam (Rep5, Col14)","x":9.3,"y":680},{"s":"Sandy Loam (Rep5, Col14)","x":10.2,"y":753},{"s":"Sandy Loam (Rep5, Col14)","x":11,"y":815},{"s":"Sandy Loam (Rep5, Col14)","x":11.8,"y":875},{"s":"Sandy Loam (Rep5, Col14)","x":13,"y":960},{"s":"Sandy Loam (Rep5, Col14)","x":14,"y":1027},{"s":"Sandy Loam (Rep5, Col14)","x":15,"y":1065},{"s":"Sandy Loam (Rep5, Col14)","x":16.2,"y":1096},{"s":"Sandy Loam (Rep5, Col14)","x":17.3,"y":1118},{"s":"Sandy Loam (Rep5, Col14)","x":18.5,"y":1134},{"s":"Sandy Loam (Rep5, Col14)","x":19.5,"y":1150},{"s":"Sandy Loam (Rep5, Col14)","x":20.7,"y":1165},{"s":"Sandy Loam (Rep5, Col14)","x":22.3,"y":1182},{"s":"Sandy Loam (Rep5, Col14)","x":24,"y":1195},{"s":"Sandy Loam (Rep5, Col14)","x":26,"y":1200},{"s":"Sandy Loam (Rep5, Col14)","x":28.4,"y":1206},{"s":"Sandy Loam (Rep5, Col14)","x":31,"y":1210},{"s":"Sandy Loam (Rep5, Col14)","x":33.9,"y":1214},{"s":"Sandy Loam (Rep5, Col14)","x":37,"y":1216},{"s":"Sandy Loam (Rep5, Col14)","x":40.5,"y":1221},{"s":"Sandy Loam (Rep5, Col14)","x":43.5,"y":1223},{"s":"Sandy Loam (Rep5, Col14)","x":46.6,"y":1226}
],
"chlB": [
{"s":"Tank Supply","x":0,"y":58},{"s":"Tank Supply","x":200,"y":58},
{"s":"Sandy Loam (Rep1, Col2)","x":0,"y":1000},{"s":"Sandy Loam (Rep1, Col2)","x":0.8,"y":990},{"s":"Sandy Loam (Rep1, Col2)","x":2,"y":975},{"s":"Sandy Loam (Rep1, Col2)","x":2.7,"y":960},{"s":"Sandy Loam (Rep1, Col2)","x":3.4,"y":860},{"s":"Sandy Loam (Rep1, Col2)","x":4.2,"y":760},{"s":"Sandy Loam (Rep1, Col2)","x":4.8,"y":700},{"s":"Sandy Loam (Rep1, Col2)","x":5.6,"y":600},{"s":"Sandy Loam (Rep1, Col2)","x":6.3,"y":520},{"s":"Sandy Loam (Rep1, Col2)","x":7,"y":440},{"s":"Sandy Loam (Rep1, Col2)","x":7.7,"y":370},{"s":"Sandy Loam (Rep1, Col2)","x":8.4,"y":320},{"s":"Sandy Loam (Rep1, Col2)","x":9.1,"y":295},{"s":"Sandy Loam (Rep1, Col2)","x":10,"y":280},{"s":"Sandy Loam (Rep1, Col2)","x":11.3,"y":262},{"s":"Sandy Loam (Rep1, Col2)","x":12.3,"y":235},{"s":"Sandy Loam (Rep1, Col2)","x":13.4,"y":205},{"s":"Sandy Loam (Rep1, Col2)","x":14.5,"y":180},{"s":"Sandy Loam (Rep1, Col2)","x":15.5,"y":158},{"s":"Sandy Loam (Rep1, Col2)","x":17,"y":140},{"s":"Sandy Loam (Rep1, Col2)","x":18.4,"y":127},{"s":"Sandy Loam (Rep1, Col2)","x":20,"y":117},{"s":"Sandy Loam (Rep1, Col2)","x":22.6,"y":104},{"s":"Sandy Loam (Rep1, Col2)","x":25,"y":96},{"s":"Sandy Loam (Rep1, Col2)","x":28.3,"y":88},{"s":"Sandy Loam (Rep1, Col2)","x":32,"y":84},{"s":"Sandy Loam (Rep1, Col2)","x":36,"y":81},{"s":"Sandy Loam (Rep1, Col2)","x":44,"y":78},{"s":"Sandy Loam (Rep1, Col2)","x":52,"y":76},{"s":"Sandy Loam (Rep1, Col2)","x":60,"y":74},{"s":"Sandy Loam (Rep1, Col2)","x":71,"y":72},
{"s":"Sandy Loam (Rep2, Col8)","x":0,"y":1215},{"s":"Sandy Loam (Rep2, Col8)","x":1,"y":1205},{"s":"Sandy Loam (Rep2, Col8)","x":2,"y":1180},{"s":"Sandy Loam (Rep2, Col8)","x":3,"y":1100},{"s":"Sandy Loam (Rep2, Col8)","x":4,"y":960},{"s":"Sandy Loam (Rep2, Col8)","x":5,"y":820},{"s":"Sandy Loam (Rep2, Col8)","x":6,"y":690},{"s":"Sandy Loam (Rep2, Col8)","x":7,"y":570},{"s":"Sandy Loam (Rep2, Col8)","x":8,"y":470},{"s":"Sandy Loam (Rep2, Col8)","x":9,"y":400},{"s":"Sandy Loam (Rep2, Col8)","x":10,"y":345},{"s":"Sandy Loam (Rep2, Col8)","x":11,"y":305},{"s":"Sandy Loam (Rep2, Col8)","x":12,"y":270},{"s":"Sandy Loam (Rep2, Col8)","x":14,"y":225},{"s":"Sandy Loam (Rep2, Col8)","x":16,"y":195},{"s":"Sandy Loam (Rep2, Col8)","x":18,"y":172},{"s":"Sandy Loam (Rep2, Col8)","x":20,"y":158},{"s":"Sandy Loam (Rep2, Col8)","x":23,"y":143},{"s":"Sandy Loam (Rep2, Col8)","x":26,"y":132},{"s":"Sandy Loam (Rep2, Col8)","x":30,"y":122},{"s":"Sandy Loam (Rep2, Col8)","x":35,"y":112},{"s":"Sandy Loam (Rep2, Col8)","x":40,"y":105},{"s":"Sandy Loam (Rep2, Col8)","x":50,"y":98},{"s":"Sandy Loam (Rep2, Col8)","x":60,"y":93},{"s":"Sandy Loam (Rep2, Col8)","x":70,"y":90},{"s":"Sandy Loam (Rep2, Col8)","x":80,"y":88},{"s":"Sandy Loam (Rep2, Col8)","x":90,"y":86},{"s":"Sandy Loam (Rep2, Col8)","x":100,"y":84},{"s":"Sandy Loam (Rep2, Col8)","x":120,"y":81},{"s":"Sandy Loam (Rep2, Col8)","x":140,"y":79},{"s":"Sandy Loam (Rep2, Col8)","x":160,"y":78},{"s":"Sandy Loam (Rep2, Col8)","x":180,"y":77},{"s":"Sandy Loam (Rep2, Col8)","x":200,"y":76},
{"s":"Sandy Loam (Rep3, Col12)","x":0,"y":1360},{"s":"Sandy Loam (Rep3, Col12)","x":0.5,"y":1355},{"s":"Sandy Loam (Rep3, Col12)","x":1,"y":1310},{"s":"Sandy Loam (Rep3, Col12)","x":2,"y":1300},{"s":"Sandy Loam (Rep3, Col12)","x":3,"y":1285},{"s":"Sandy Loam (Rep3, Col12)","x":3.5,"y":1250},{"s":"Sandy Loam (Rep3, Col12)","x":4.3,"y":1150},{"s":"Sandy Loam (Rep3, Col12)","x":5,"y":1050},{"s":"Sandy Loam (Rep3, Col12)","x":6,"y":920},{"s":"Sandy Loam (Rep3, Col12)","x":7,"y":800},{"s":"Sandy Loam (Rep3, Col12)","x":8,"y":690},{"s":"Sandy Loam (Rep3, Col12)","x":9,"y":590},{"s":"Sandy Loam (Rep3, Col12)","x":10,"y":510},{"s":"Sandy Loam (Rep3, Col12)","x":11,"y":445},{"s":"Sandy Loam (Rep3, Col12)","x":12,"y":390},{"s":"Sandy Loam (Rep3, Col12)","x":13,"y":345},{"s":"Sandy Loam (Rep3, Col12)","x":14,"y":305},{"s":"Sandy Loam (Rep3, Col12)","x":15,"y":275},{"s":"Sandy Loam (Rep3, Col12)","x":16,"y":250},{"s":"Sandy Loam (Rep3, Col12)","x":18,"y":222},{"s":"Sandy Loam (Rep3, Col12)","x":20,"y":205},{"s":"Sandy Loam (Rep3, Col12)","x":23,"y":185},{"s":"Sandy Loam (Rep3, Col12)","x":26,"y":170},{"s":"Sandy Loam (Rep3, Col12)","x":30,"y":155},{"s":"Sandy Loam (Rep3, Col12)","x":35,"y":140},{"s":"Sandy Loam (Rep3, Col12)","x":40,"y":128},{"s":"Sandy Loam (Rep3, Col12)","x":45,"y":122},{"s":"Sandy Loam (Rep3, Col12)","x":50,"y":118},{"s":"Sandy Loam (Rep3, Col12)","x":55,"y":118},{"s":"Sandy Loam (Rep3, Col12)","x":58,"y":125},{"s":"Sandy Loam (Rep3, Col12)","x":59,"y":132},{"s":"Sandy Loam (Rep3, Col12)","x":60,"y":115},{"s":"Sandy Loam (Rep3, Col12)","x":65,"y":110},{"s":"Sandy Loam (Rep3, Col12)","x":70,"y":105},{"s":"Sandy Loam (Rep3, Col12)","x":80,"y":98},{"s":"Sandy Loam (Rep3, Col12)","x":90,"y":95},{"s":"Sandy Loam (Rep3, Col12)","x":100,"y":92},{"s":"Sandy Loam (Rep3, Col12)","x":110,"y":88},{"s":"Sandy Loam (Rep3, Col12)","x":120,"y":80},{"s":"Sandy Loam (Rep3, Col12)","x":130,"y":74},{"s":"Sandy Loam (Rep3, Col12)","x":140,"y":70},{"s":"Sandy Loam (Rep3, Col12)","x":145,"y":67},
{"s":"Sandy Loam (Rep4, Col13)","x":0,"y":1240},{"s":"Sandy Loam (Rep4, Col13)","x":1,"y":1228},{"s":"Sandy Loam (Rep4, Col13)","x":2,"y":1222},{"s":"Sandy Loam (Rep4, Col13)","x":3,"y":1210},{"s":"Sandy Loam (Rep4, Col13)","x":4,"y":1120},{"s":"Sandy Loam (Rep4, Col13)","x":5,"y":990},{"s":"Sandy Loam (Rep4, Col13)","x":6,"y":860},{"s":"Sandy Loam (Rep4, Col13)","x":7,"y":740},{"s":"Sandy Loam (Rep4, Col13)","x":8,"y":630},{"s":"Sandy Loam (Rep4, Col13)","x":9,"y":540},{"s":"Sandy Loam (Rep4, Col13)","x":10,"y":465},{"s":"Sandy Loam (Rep4, Col13)","x":11,"y":405},{"s":"Sandy Loam (Rep4, Col13)","x":12,"y":355},{"s":"Sandy Loam (Rep4, Col13)","x":13,"y":310},{"s":"Sandy Loam (Rep4, Col13)","x":14,"y":275},{"s":"Sandy Loam (Rep4, Col13)","x":16,"y":230},{"s":"Sandy Loam (Rep4, Col13)","x":18,"y":200},{"s":"Sandy Loam (Rep4, Col13)","x":20,"y":182},{"s":"Sandy Loam (Rep4, Col13)","x":23,"y":165},{"s":"Sandy Loam (Rep4, Col13)","x":26,"y":152},{"s":"Sandy Loam (Rep4, Col13)","x":30,"y":140},{"s":"Sandy Loam (Rep4, Col13)","x":35,"y":130},{"s":"Sandy Loam (Rep4, Col13)","x":40,"y":122},{"s":"Sandy Loam (Rep4, Col13)","x":50,"y":115},{"s":"Sandy Loam (Rep4, Col13)","x":60,"y":108},{"s":"Sandy Loam (Rep4, Col13)","x":70,"y":102},{"s":"Sandy Loam (Rep4, Col13)","x":80,"y":98},{"s":"Sandy Loam (Rep4, Col13)","x":90,"y":96},{"s":"Sandy Loam (Rep4, Col13)","x":100,"y":94},{"s":"Sandy Loam (Rep4, Col13)","x":110,"y":92},{"s":"Sandy Loam (Rep4, Col13)","x":120,"y":90},{"s":"Sandy Loam (Rep4, Col13)","x":130,"y":88},{"s":"Sandy Loam (Rep4, Col13)","x":140,"y":86},{"s":"Sandy Loam (Rep4, Col13)","x":150,"y":84},{"s":"Sandy Loam (Rep4, Col13)","x":160,"y":82},{"s":"Sandy Loam (Rep4, Col13)","x":170,"y":80},{"s":"Sandy Loam (Rep4, Col13)","x":180,"y":79},{"s":"Sandy Loam (Rep4, Col13)","x":190,"y":78},{"s":"Sandy Loam (Rep4, Col13)","x":200,"y":77},
{"s":"Sandy Loam (Rep5, Col14)","x":0,"y":1300},{"s":"Sandy Loam (Rep5, Col14)","x":0.8,"y":1310},{"s":"Sandy Loam (Rep5, Col14)","x":1.5,"y":1305},{"s":"Sandy Loam (Rep5, Col14)","x":2.2,"y":1300},{"s":"Sandy Loam (Rep5, Col14)","x":2.6,"y":1230},{"s":"Sandy Loam (Rep5, Col14)","x":3,"y":1215},{"s":"Sandy Loam (Rep5, Col14)","x":3.6,"y":1150},{"s":"Sandy Loam (Rep5, Col14)","x":4.3,"y":1030},{"s":"Sandy Loam (Rep5, Col14)","x":5,"y":900},{"s":"Sandy Loam (Rep5, Col14)","x":6,"y":740},{"s":"Sandy Loam (Rep5, Col14)","x":7,"y":600},{"s":"Sandy Loam (Rep5, Col14)","x":8,"y":480},{"s":"Sandy Loam (Rep5, Col14)","x":9,"y":390},{"s":"Sandy Loam (Rep5, Col14)","x":10,"y":330},{"s":"Sandy Loam (Rep5, Col14)","x":11,"y":285},{"s":"Sandy Loam (Rep5, Col14)","x":12,"y":245},{"s":"Sandy Loam (Rep5, Col14)","x":13,"y":210},{"s":"Sandy Loam (Rep5, Col14)","x":14,"y":185},{"s":"Sandy Loam (Rep5, Col14)","x":15,"y":165},{"s":"Sandy Loam (Rep5, Col14)","x":16,"y":150},{"s":"Sandy Loam (Rep5, Col14)","x":18,"y":132},{"s":"Sandy Loam (Rep5, Col14)","x":20,"y":120},{"s":"Sandy Loam (Rep5, Col14)","x":23,"y":110},{"s":"Sandy Loam (Rep5, Col14)","x":26,"y":104},{"s":"Sandy Loam (Rep5, Col14)","x":30,"y":99},{"s":"Sandy Loam (Rep5, Col14)","x":35,"y":96},{"s":"Sandy Loam (Rep5, Col14)","x":40,"y":94},{"s":"Sandy Loam (Rep5, Col14)","x":45,"y":92},{"s":"Sandy Loam (Rep5, Col14)","x":50,"y":90},{"s":"Sandy Loam (Rep5, Col14)","x":60,"y":89},{"s":"Sandy Loam (Rep5, Col14)","x":70,"y":88},{"s":"Sandy Loam (Rep5, Col14)","x":80,"y":87}
]
},
"columns": 1,
"align": "none",
"spacing": 24,
"resolve": {"scale": {"color": "independent"}, "legend": {"color": "independent"}},
"concat": [
{
"spacing": 26,
"resolve": {"scale": {"color": "independent"}, "legend": {"color": "independent"}},
"hconcat": [
{
"width": 474, "height": 350,
"data": {"name": "tempA"},
"title": {"text": "Temperature - Sandy Loam", "dx": 61},
"mark": {"type": "line", "strokeWidth": 1.2, "clip": true},
"encoding": {
"x": {"field": "x", "type": "quantitative", "scale": {"domain": [0, 150], "nice": false, "zero": false}, "axis": {"values": [0, 20, 40, 60, 80, 100, 120, 140], "title": "Volume per Area (mL per cm²) = (cm)", "gridColor": {"condition": {"test": "datum.value === 0", "value": "#000"}, "value": "#d4d4d4"}, "gridWidth": {"condition": {"test": "datum.value === 0", "value": 2}, "value": 1.2}}},
"y": {"field": "y", "type": "quantitative", "scale": {"domain": [11, 23], "nice": false, "zero": false}, "axis": {"values": [11, 13, 15, 17, 19, 21, 23], "title": "Temperature (°C)", "titlePadding": 8, "gridColor": {"condition": {"test": "datum.value === 11 || datum.value === 23", "value": "#000"}, "value": "#d4d4d4"}, "gridWidth": {"condition": {"test": "datum.value === 11 || datum.value === 23", "value": 2}, "value": 1.2}}},
"color": {"field": "s", "type": "nominal", "scale": {"domain": ["Sandy Loam (Rep1, Col2)", "Sandy Loam (Rep2, Col8)", "Sandy Loam (Rep3, Col12)", "Sandy Loam (Rep4, Col13)", "Sandy Loam (Rep5, Col14)"], "range": ["#bdd7ee", "#9dc3e6", "#5b9bd5", "#2e75b6", "#1f4e79"]}, "legend": null}
}
},
{
"width": 468, "height": 350,
"data": {"name": "tempB"},
"title": {"text": "Temperature - Sandy Loam", "dx": 63},
"mark": {"type": "line", "strokeWidth": 1.2, "clip": true},
"encoding": {
"x": {"field": "x", "type": "quantitative", "scale": {"domain": [0, 200], "nice": false, "zero": false}, "axis": {"values": [0, 20, 40, 60, 80, 100, 120, 140, 160, 180, 200], "title": "Volume per Area (mL per cm²) = (cm)", "gridColor": {"condition": {"test": "datum.value === 0 || datum.value === 200", "value": "#000"}, "value": "#d4d4d4"}, "gridWidth": {"condition": {"test": "datum.value === 0 || datum.value === 200", "value": 2}, "value": 1.2}}},
"y": {"field": "y", "type": "quantitative", "scale": {"domain": [11, 23], "nice": false, "zero": false}, "axis": {"values": [11, 13, 15, 17, 19, 21, 23], "title": "Temperature (°C)", "labelPadding": 15, "titlePadding": 1, "gridColor": {"condition": {"test": "datum.value === 11 || datum.value === 23", "value": "#000"}, "value": "#d4d4d4"}, "gridWidth": {"condition": {"test": "datum.value === 11 || datum.value === 23", "value": 2}, "value": 1.2}}},
"color": {"field": "s", "type": "nominal", "scale": {"domain": ["Sandy Loam (Rep1, Col2)", "Sandy Loam (Rep2, Col8)", "Sandy Loam (Rep3, Col12)", "Sandy Loam (Rep4, Col13)", "Sandy Loam (Rep5, Col14)"], "range": ["#bdd7ee", "#9dc3e6", "#5b9bd5", "#2e75b6", "#1f4e79"]}, "legend": {"orient": "none", "legendX": 492, "legendY": 152, "title": null}}
}
}
]
},
{
"spacing": 26,
"resolve": {"scale": {"color": "independent"}, "legend": {"color": "independent"}},
"hconcat": [
{
"width": 474, "height": 350,
"data": {"name": "chlA"},
"title": {"text": "Chloride Concentration - Sandy Loam", "dx": 64},
"mark": {"type": "line", "clip": true},
"encoding": {
"x": {"field": "x", "type": "quantitative", "scale": {"domain": [0, 150], "nice": false, "zero": false}, "axis": {"values": [0, 20, 40, 60, 80, 100, 120, 140], "title": "Volume per Area (mL per cm²) = (cm)", "gridColor": {"condition": {"test": "datum.value === 0", "value": "#000"}, "value": "#d4d4d4"}, "gridWidth": {"condition": {"test": "datum.value === 0", "value": 2}, "value": 1.2}}},
"y": {"field": "y", "type": "quantitative", "scale": {"domain": [0, 1600], "nice": false}, "axis": {"values": [0, 200, 400, 600, 800, 1000, 1200, 1400, 1600], "title": "Chloride Concentration (mg/L)", "titlePadding": 0, "gridColor": {"condition": {"test": "datum.value === 0 || datum.value === 1600", "value": "#000"}, "value": "#d4d4d4"}, "gridWidth": {"condition": {"test": "datum.value === 0 || datum.value === 1600", "value": 2}, "value": 1.2}}},
"color": {"field": "s", "type": "nominal", "scale": {"domain": ["Tank Supply", "Sandy Loam (Rep1, Col2)", "Sandy Loam (Rep2, Col8)", "Sandy Loam (Rep3, Col12)", "Sandy Loam (Rep4, Col13)", "Sandy Loam (Rep5, Col14)"], "range": ["#000000", "#bdd7ee", "#9dc3e6", "#5b9bd5", "#2e75b6", "#1f4e79"]}, "legend": null},
"strokeWidth": {"condition": {"test": "datum.s === 'Tank Supply'", "value": 2}, "value": 1.2}
}
},
{
"width": 468, "height": 350,
"data": {"name": "chlB"},
"title": {"text": "Chloride Concentration - Sandy Loam", "dx": 68},
"mark": {"type": "line", "clip": true},
"encoding": {
"x": {"field": "x", "type": "quantitative", "scale": {"domain": [0, 200], "nice": false, "zero": false}, "axis": {"values": [0, 20, 40, 60, 80, 100, 120, 140, 160, 180, 200], "title": "Volume per Area (mL per cm²) = (cm)", "gridColor": {"condition": {"test": "datum.value === 0 || datum.value === 200", "value": "#000"}, "value": "#d4d4d4"}, "gridWidth": {"condition": {"test": "datum.value === 0 || datum.value === 200", "value": 2}, "value": 1.2}}},
"y": {"field": "y", "type": "quantitative", "scale": {"domain": [0, 1600], "nice": false}, "axis": {"values": [0, 200, 400, 600, 800, 1000, 1200, 1400, 1600], "title": "Chloride Concentration (mg/L)", "titlePadding": 0, "gridColor": {"condition": {"test": "datum.value === 0 || datum.value === 1600", "value": "#000"}, "value": "#d4d4d4"}, "gridWidth": {"condition": {"test": "datum.value === 0 || datum.value === 1600", "value": 2}, "value": 1.2}}},
"color": {"field": "s", "type": "nominal", "scale": {"domain": ["Tank Supply", "Sandy Loam (Rep1, Col2)", "Sandy Loam (Rep2, Col8)", "Sandy Loam (Rep3, Col12)", "Sandy Loam (Rep4, Col13)", "Sandy Loam (Rep5, Col14)"], "range": ["#000000", "#bdd7ee", "#9dc3e6", "#5b9bd5", "#2e75b6", "#1f4e79"]}, "legend": {"orient": "none", "legendX": 496, "legendY": 143, "title": null}},
"strokeWidth": {"condition": {"test": "datum.s === 'Tank Supply'", "value": 2}, "value": 1.2}
}
}
]
}
]
}
